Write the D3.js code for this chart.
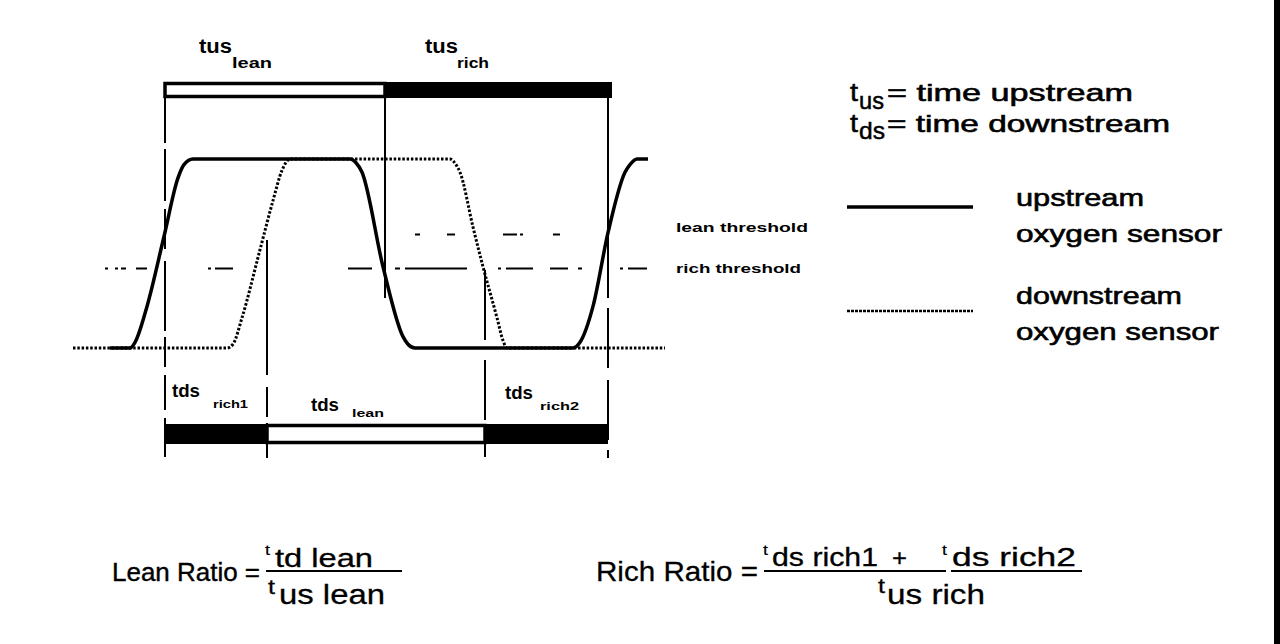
<!DOCTYPE html>
<html>
<head>
<meta charset="utf-8">
<script src="https://cdn.jsdelivr.net/npm/d3@7"></script>
<style>
  html, body { margin: 0; padding: 0; background: #fff; }
  svg { display: block; }
  text { font-family: "Liberation Sans", Arial, Helvetica, sans-serif; fill: #000; }
</style>
</head>
<body>
<svg id="chart" width="1280" height="644"></svg>
<script>
// ---------------- data ----------------
// time axis in arbitrary units, signal level normalised 0 (low / lean) .. 1 (high / rich)
const upstreamTime  = [4.0, 6.0, 6.5, 7.7, 9.4, 10.8, 11.4, 12.3, 28.0, 28.6, 29.2, 31.3, 33.3, 33.8, 34.5, 50.3, 51.0, 52.3, 53.8, 55.5, 56.0, 56.7, 57.8];
const upstreamLevel = [0,   0,   0.03, 0.22, 0.59, 0.90, 0.97, 1,   1,    0.98, 0.93, 0.43, 0.06, 0.02, 0,    0,    0.03, 0.22, 0.61, 0.93, 0.97, 1.0,  1];
const downstreamTime  = [0.3, 15.7, 16.3, 17.2, 19.0, 20.3, 21.2, 22.0, 38.0, 38.6, 39.0, 40.3, 41.3, 42.7, 43.3, 43.7, 59.5];
const downstreamLevel = [0,   0,    0.02, 0.16, 0.52, 0.78, 0.94, 1.0,  1,    0.97, 0.93, 0.64, 0.43, 0.16, 0.04, 0,    0];

const thresholdNames  = ["lean threshold", "rich threshold"];
const thresholdLevels = [0.60, 0.42];
const thresholdStart  = [34.5, 3.5];
const thresholdEnd    = [49.0, 57.7];

const usNames  = ["lean", "rich"];
const usStart  = [9.5, 31.5];
const usEnd    = [31.5, 54.2];
const usRich   = [false, true];

const dsNames  = ["rich1", "lean", "rich2"];
const dsStart  = [9.5, 19.7, 41.5];
const dsEnd    = [19.7, 41.5, 53.8];
const dsRich   = [true, false, true];

const legendNames = ["upstream", "downstream"];
const legendLine2 = ["oxygen sensor", "oxygen sensor"];

// ---------------- layout ----------------
const svg = d3.select("#chart");
const x = d3.scaleLinear().domain([0, 59]).range([70, 660]);
const y = d3.scaleLinear().domain([0, 1]).range([348, 159]);

function T(px, py, str, size, len, opts = {}) {
  const t = svg.append("text")
    .attr("x", px).attr("y", py)
    .attr("font-size", size)
    .attr("font-weight", opts.bold ? "bold" : "normal")
    .text(str);
  if (len) t.attr("textLength", len).attr("lengthAdjust", "spacingAndGlyphs");
  if (opts.heavy) t.attr("stroke", "#000").attr("stroke-width", opts.heavy);
  return t;
}

// right edge black strip
svg.append("rect").attr("x", 1274).attr("y", 0).attr("width", 6).attr("height", 644).attr("fill", "#000");

// vertical marker lines at interval boundaries
const markers = [
  {t: usStart[0], y0: 98, y1: 457, dash: "45,6,52,8,40,12,70,6,30,8,35,8,40"},
  {t: dsStart[1], y0: 240, y1: 458, dash: "135,12,30,6,40"},
  {t: usStart[1], y0: 98, y1: 298, dash: null},
  {t: dsStart[2], y0: 270, y1: 457, dash: "70,20,60,8,40,6,20"},
  {t: dsEnd[2],   y0: 98, y1: 458, dash: "200,10,60,12,60,10,20"}
];
markers.forEach(m => {
  const l = svg.append("line")
    .attr("x1", x(m.t)).attr("x2", x(m.t))
    .attr("y1", m.y0).attr("y2", m.y1)
    .attr("stroke", "#000").attr("stroke-width", 2);
  if (m.dash) l.attr("stroke-dasharray", m.dash);
});

// threshold lines
const thrDash = [
  "5,27,8,48,14,3,3,30,7",
  "3,7,3,3,5,10,11,61,3,4,18,115,24,23,5,5,62,31,3,5,27,17,18,10,4,38,3,5,19"
];
thresholdLevels.forEach((lv, i) => {
  svg.append("line")
    .attr("x1", x(thresholdStart[i])).attr("x2", x(thresholdEnd[i]))
    .attr("y1", y(lv)).attr("y2", y(lv))
    .attr("stroke", "#000").attr("stroke-width", 2)
    .attr("stroke-dasharray", thrDash[i]);
});
T(676, 232, thresholdNames[0], 13, 132, {bold: true});
T(676, 273, thresholdNames[1], 13, 125, {bold: true});

// waveforms
const line = d3.line().x(d => x(d[0])).y(d => y(d[1])).curve(d3.curveMonotoneX);
const up = upstreamTime.map((t, i) => [t, upstreamLevel[i]]);
const down = downstreamTime.map((t, i) => [t, downstreamLevel[i]]);

svg.append("path").attr("d", line(down))
  .attr("fill", "none").attr("stroke", "#000").attr("stroke-width", 3)
  .attr("stroke-dasharray", "2.5,1.8");
svg.append("path").attr("d", line(up))
  .attr("fill", "none").attr("stroke", "#000").attr("stroke-width", 3.5)
  .attr("stroke-linejoin", "round");

// upstream interval bar (top)
usNames.forEach((n, i) => {
  const r = svg.append("rect")
    .attr("x", x(usStart[i])).attr("y", usRich[i] ? 82 : 83.5)
    .attr("width", x(usEnd[i]) - x(usStart[i]))
    .attr("height", usRich[i] ? 16 : 13);
  if (usRich[i]) r.attr("fill", "#000");
  else r.attr("fill", "#fff").attr("stroke", "#000").attr("stroke-width", 3.5);
});
// downstream interval bar (bottom)
dsNames.forEach((n, i) => {
  const r = svg.append("rect")
    .attr("x", x(dsStart[i])).attr("y", dsRich[i] ? 424 : 425.5)
    .attr("width", x(dsEnd[i]) - x(dsStart[i]))
    .attr("height", dsRich[i] ? 20 : 17);
  if (dsRich[i]) r.attr("fill", "#000");
  else r.attr("fill", "#fff").attr("stroke", "#000").attr("stroke-width", 3.5);
});

// interval labels
const usLabelPos = [[199, 53, 232, 68, 40], [425, 53, 457, 68, 32]];
usNames.forEach((n, i) => {
  const p = usLabelPos[i];
  T(p[0], p[1], "tus", 20, 33, {bold: true});
  T(p[2], p[3], n, 14, p[4], {bold: true});
});
const dsLabelPos = [[172, 397, 213, 408, 35], [311, 411, 352, 417, 32], [505, 399, 540, 410, 39]];
dsNames.forEach((n, i) => {
  const p = dsLabelPos[i];
  T(p[0], p[1], "tds", 18, 28, {bold: true});
  T(p[2], p[3], n, 11, p[4], {bold: true});
});

// definitions
T(850, 101, "t", 26, 8, {heavy: 0.5});
T(859, 109, "us", 24, 25, {heavy: 0.5});
T(887, 101, "= time upstream", 24, 246, {heavy: 0.6});
T(850, 132, "t", 26, 8, {heavy: 0.5});
T(859, 139, "ds", 24, 26, {heavy: 0.5});
T(887, 132, "= time downstream", 24, 283, {heavy: 0.6});

// legend
svg.append("line").attr("x1", 847).attr("x2", 973).attr("y1", 207).attr("y2", 207)
  .attr("stroke", "#000").attr("stroke-width", 3.5);
svg.append("line").attr("x1", 847).attr("x2", 973).attr("y1", 311).attr("y2", 311)
  .attr("stroke", "#000").attr("stroke-width", 2.5).attr("stroke-dasharray", "3,1");
T(1016, 206, legendNames[0], 24, 128, {heavy: 0.6});
T(1016, 242, legendLine2[0], 24, 206, {heavy: 0.6});
T(1016, 304, legendNames[1], 24, 166, {heavy: 0.6});
T(1016, 340, legendLine2[1], 24, 203, {heavy: 0.6});

// formulas
T(112, 581, "Lean Ratio =", 26, 148, {heavy: 0.4});
T(265, 555, "t", 15, 5, {heavy: 0.2});
T(275, 567, "td lean", 25, 98, {heavy: 0.3});
svg.append("line").attr("x1", 266).attr("x2", 402).attr("y1", 571).attr("y2", 571)
  .attr("stroke", "#000").attr("stroke-width", 2.2);
T(268, 594, "t", 21, 7, {heavy: 0.3});
T(279, 604, "us lean", 28, 106, {heavy: 0.3});

T(596, 581, "Rich Ratio =", 28, 162, {heavy: 0.3});
T(763, 555, "t", 15, 5, {heavy: 0.2});
T(772, 566, "ds rich1", 25, 106, {heavy: 0.3});
T(892, 566, "+", 24, 15, {heavy: 0.3});
T(942, 555, "t", 15, 5, {heavy: 0.2});
T(952, 566, "ds rich2", 25, 124, {heavy: 0.3});
svg.append("line").attr("x1", 764).attr("x2", 946).attr("y1", 571).attr("y2", 571)
  .attr("stroke", "#000").attr("stroke-width", 2.2);
svg.append("line").attr("x1", 951).attr("x2", 1082).attr("y1", 571).attr("y2", 571)
  .attr("stroke", "#000").attr("stroke-width", 2.2);
T(878, 593, "t", 21, 7, {heavy: 0.3});
T(887, 604, "us rich", 28, 98, {heavy: 0.3});
</script>
</body>
</html>
